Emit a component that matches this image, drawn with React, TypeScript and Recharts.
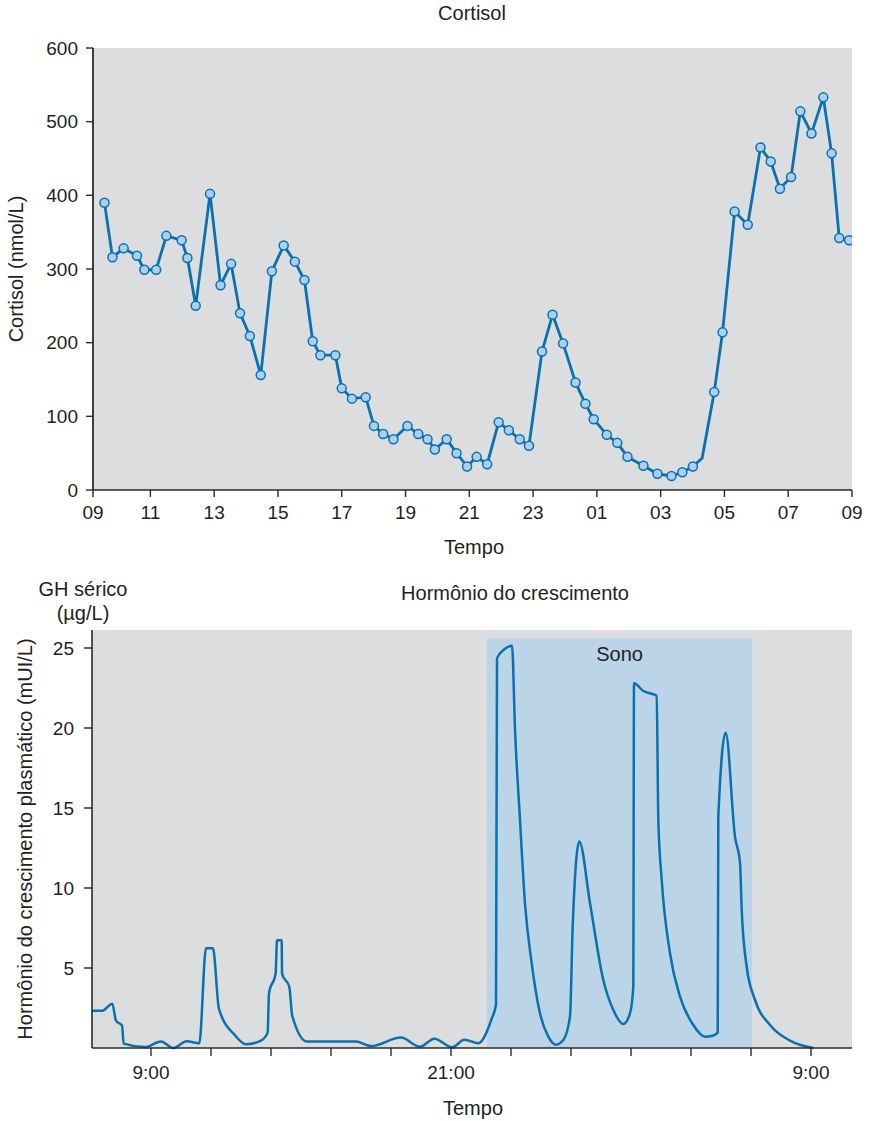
import { LineChart, Line, XAxis, YAxis, CartesianGrid, ReferenceArea, Label } from "recharts";

const FONT = '"Liberation Sans", Arial, Helvetica, sans-serif';
const INK = "#231f20";
const AXIS = "#2a2a2a";
const BLUE = "#0a70ae";
const PLOT_BG = "#dcdddf";

// Cortisol: clock hour (09 -> 33 = 09 next day) and nmol/L
const cortisolHours = [
  9.56, 9.81, 10.16, 10.58, 10.81, 11.18, 11.5, 11.98, 12.16, 12.42,
  12.87, 13.2, 13.53, 13.81, 14.12, 14.46, 14.81, 15.18, 15.53, 15.83,
  16.09, 16.33, 16.8, 17.0, 17.32, 17.75, 18.01, 18.3, 18.62, 19.06,
  19.4, 19.69, 19.92, 20.29, 20.6, 20.93, 21.23, 21.56, 21.92, 22.24,
  22.58, 22.87, 23.28, 23.61, 23.94, 24.33, 24.64, 24.9, 25.31, 25.64,
  25.96, 26.46, 26.9, 27.34, 27.68, 28.01, 28.3, 28.68, 28.94, 29.32,
  29.73, 30.13, 30.45, 30.74, 31.09, 31.38, 31.73, 32.1, 32.36, 32.6,
  32.91,
];
const cortisolValues = [
  390, 316, 328, 318, 299, 299, 345, 339, 315, 250,
  402, 278, 307, 240, 209, 156, 297, 332, 310, 285,
  202, 183, 183, 138, 124, 126, 87, 76, 69, 87,
  76, 69, 55, 69, 50, 32, 45, 35, 92, 81,
  69, 60, 188, 238, 199, 146, 117, 96, 75, 64,
  45, 33, 22, 19, 24, 32, 43, 133, 214, 378,
  360, 465, 446, 409, 425, 514, 484, 533, 457, 342,
  339,
];
const cortisolNoMarker = [28.3];
const cortisolTicks = [9.2, 11, 13, 15, 17, 19, 21, 23, 25, 27, 29, 31, 33];
const cortisolYTicks = [0, 100, 200, 300, 400, 500, 600];

// GH: position along the time axis (one unit per tick mark, 0 = 9:00) and mUI/L
const ghSlots = [
  -0.99, -0.81, -0.645, -0.583, -0.483, -0.455, -0.1, 0.167, 0.37, 0.595,
  0.805, 0.917, 1.033, 1.133, 1.405, 1.583, 1.833, 1.944, 1.967, 2.078,
  2.1, 2.178, 2.185, 2.305, 2.355, 2.6, 3.417, 3.667, 4.167, 4.483,
  4.722, 5.022, 5.222, 5.455, 5.68, 5.75, 5.767, 5.89, 5.96, 6.017,
  6.067, 6.15, 6.233, 6.345, 6.483, 6.622, 6.75, 6.872, 6.983, 7.028,
  7.138, 7.317, 7.538, 7.705, 7.872, 7.983, 8.038, 8.05, 8.205, 8.428,
  8.455, 8.512, 8.65, 8.817, 9.038, 9.233, 9.345, 9.445, 9.455, 9.578,
  9.733, 9.817, 9.845, 9.928, 10.067, 10.317, 10.65, 11.04,
];
const ghValues = [
  2.33, 2.33, 2.77, 1.71, 1.4, 0.27, 0.06, 0.4, 0, 0.42,
  0.29, 6.23, 6.23, 2.44, 0.77, 0.23, 0.46, 0.96, 3.42, 4.67,
  6.73, 6.73, 4.63, 3.83, 2.0, 0.4, 0.4, 0.12, 0.65, 0.08,
  0.58, 0.04, 0.52, 0.3, 1.85, 2.7, 24.35, 24.92, 25.08, 25.14,
  19.9, 14.25, 9.04, 5.29, 2.17, 0.71, 0.21, 0.5, 1.96, 7.58,
  12.9, 9.04, 4.25, 2.38, 1.5, 2.17, 3.83, 22.79, 22.31, 22.02,
  14.25, 10.5, 5.92, 3.21, 1.44, 0.71, 0.75, 0.96, 14.46, 19.71,
  13.21, 11.54, 8.63, 5.08, 3.0, 1.44, 0.46, 0,
];
const ghTicks = [0, 1, 2, 3, 4, 5, 6, 7, 8, 9, 10, 11];
const ghTickLabels: Record<number, string> = { 0: "9:00", 5: "21:00", 11: "9:00" };
const ghYTicks = [5, 10, 15, 20, 25];
const sleepStart = 5.6;
const sleepEnd = 10.02;
const sleepTop = 25.6;

const cortisolData = cortisolHours.map((hour, i) => ({
  hour,
  value: cortisolValues[i],
  marker: !cortisolNoMarker.includes(hour),
}));
const ghData = ghSlots.map((slot, i) => ({ slot, value: ghValues[i] }));

const tickStyle = { fontSize: 19, fill: INK, fontFamily: FONT };

function VerticalTitle({ x, y, text }: { x: number; y: number; text: string }) {
  return (
    <text
      x={x}
      y={y}
      transform={`rotate(-90 ${x} ${y})`}
      textAnchor="middle"
      dominantBaseline="central"
      fontSize={20}
      fill={INK}
      fontFamily={FONT}
    >
      {text}
    </text>
  );
}

function HorizontalTitle({ x, y, text }: { x: number; y: number; text: string }) {
  return (
    <text x={x} y={y} textAnchor="middle" dominantBaseline="central" fontSize={20} fill={INK} fontFamily={FONT}>
      {text}
    </text>
  );
}

function CortisolDot(props: any) {
  const { cx, cy, payload, index } = props;
  if (!payload?.marker) return <g key={`d${index}`} />;
  return <circle key={`d${index}`} cx={cx} cy={cy} r={4.5} fill="#a9d0f0" stroke={BLUE} strokeWidth={1.5} />;
}

const textStyle: React.CSSProperties = {
  position: "absolute",
  fontFamily: FONT,
  fontSize: 20,
  color: INK,
  whiteSpace: "nowrap",
  transform: "translate(-50%, -50%)",
  lineHeight: 1,
};

export default function App() {
  return (
    <div style={{ position: "absolute", left: 0, top: 0, width: 869, height: 1121, background: "#fff" }}>
      <div style={{ ...textStyle, left: 472, top: 13 }}>Cortisol</div>
      <div style={{ position: "absolute", left: 0, top: 0 }}>
        <LineChart width={869} height={560} data={cortisolData} margin={{ top: 48, right: 17, bottom: 0, left: 0 }}>
          <CartesianGrid fill={PLOT_BG} stroke="none" horizontal={false} vertical={false} />
          <XAxis
            type="number"
            dataKey="hour"
            domain={[9.2, 33]}
            ticks={cortisolTicks}
            allowDataOverflow
            interval={0}
            height={70}
            tickSize={7}
            tickMargin={9}
            tick={tickStyle}
            axisLine={{ stroke: AXIS, strokeWidth: 1.6 }}
            tickLine={{ stroke: AXIS, strokeWidth: 1.4 }}
            tickFormatter={(h: number) => String(Math.round(h) % 24).padStart(2, "0")}
          >
            <Label content={() => <HorizontalTitle x={474} y={547} text="Tempo" />} />
          </XAxis>
          <YAxis
            type="number"
            domain={[0, 600]}
            ticks={cortisolYTicks}
            interval={0}
            width={93}
            tickSize={7}
            tickMargin={8}
            tick={tickStyle}
            axisLine={{ stroke: AXIS, strokeWidth: 1.8 }}
            tickLine={{ stroke: AXIS, strokeWidth: 1.4 }}
          >
            <Label content={() => <VerticalTitle x={16} y={269} text="Cortisol (nmol/L)" />} />
          </YAxis>
          <Line
            type="linear"
            dataKey="value"
            stroke={BLUE}
            strokeWidth={2.8}
            dot={CortisolDot}
            activeDot={false}
            isAnimationActive={false}
          />
        </LineChart>
      </div>

      <div style={{ ...textStyle, left: 83, top: 589 }}>GH sérico</div>
      <div style={{ ...textStyle, left: 83, top: 613 }}>(µg/L)</div>
      <div style={{ ...textStyle, left: 515, top: 593 }}>Hormônio do crescimento</div>
      <div style={{ position: "absolute", left: 0, top: 570 }}>
        <LineChart width={869} height={551} data={ghData} margin={{ top: 60, right: 17, bottom: 0, left: 0 }}>
          <CartesianGrid fill={PLOT_BG} stroke="none" horizontal={false} vertical={false} />
          <ReferenceArea
            x1={sleepStart}
            x2={sleepEnd}
            y1={0}
            y2={sleepTop}
            fill="#bcd4e8"
            fillOpacity={1}
            stroke="none"
            label={{ value: "Sono", position: "insideTop", offset: 8, fontSize: 20, fill: INK, fontFamily: FONT }}
          />
          <XAxis
            type="number"
            dataKey="slot"
            domain={[-0.983, 11.683]}
            ticks={ghTicks}
            allowDataOverflow
            interval={0}
            height={73}
            tickSize={8}
            tickMargin={10}
            tick={tickStyle}
            axisLine={{ stroke: AXIS, strokeWidth: 1.6 }}
            tickLine={{ stroke: AXIS, strokeWidth: 1.4 }}
            tickFormatter={(t: number) => ghTickLabels[t] ?? ""}
          >
            <Label content={() => <HorizontalTitle x={473} y={538} text="Tempo" />} />
          </XAxis>
          <YAxis
            type="number"
            domain={[0, 26.125]}
            ticks={ghYTicks}
            interval={0}
            width={92}
            tickSize={8}
            tickMargin={10}
            tick={tickStyle}
            axisLine={{ stroke: AXIS, strokeWidth: 1.6 }}
            tickLine={{ stroke: AXIS, strokeWidth: 1.4 }}
          >
            <Label
              content={() => <VerticalTitle x={25} y={269} text="Hormônio do crescimento plasmático (mUI/L)" />}
            />
          </YAxis>
          <Line
            type="monotoneX"
            dataKey="value"
            stroke={BLUE}
            strokeWidth={2.5}
            dot={false}
            activeDot={false}
            isAnimationActive={false}
          />
        </LineChart>
      </div>
    </div>
  );
}
